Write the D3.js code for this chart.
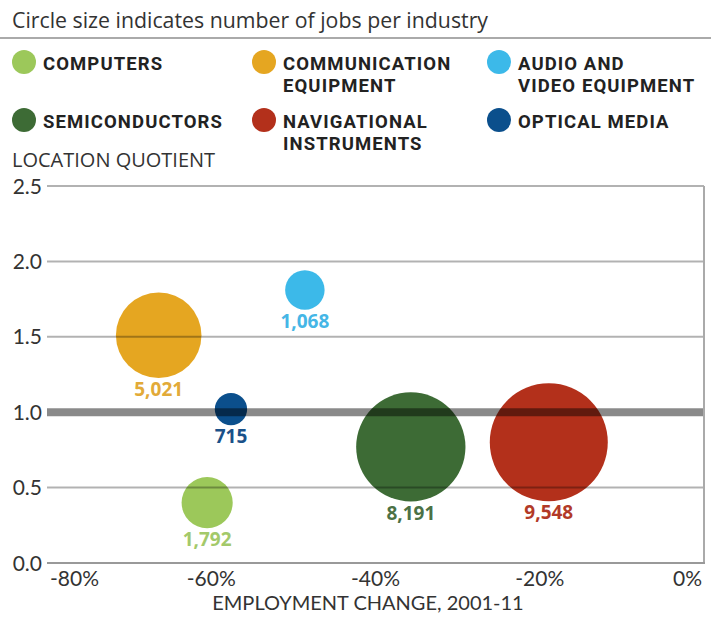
<!DOCTYPE html>
<html>
<head>
<meta charset="utf-8">
<script src="https://cdn.jsdelivr.net/npm/d3@7"></script>
<style>
  body { margin: 0; background: #fff; }
  svg { display: block; }
</style>
</head>
<body>
<script>
// data
let industries = ["Computers", "Communication equipment", "Audio and video equipment",
                  "Semiconductors", "Navigational instruments", "Optical media"];
let legendLines = [["COMPUTERS"], ["COMMUNICATION", "EQUIPMENT"], ["AUDIO AND", "VIDEO EQUIPMENT"],
                   ["SEMICONDUCTORS"], ["NAVIGATIONAL", "INSTRUMENTS"], ["OPTICAL MEDIA"]];
let employmentChange = [-60.5, -66.4, -48.6, -35.7, -18.9, -57.6];
let locationQuotient = [0.40, 1.51, 1.81, 0.77, 0.80, 1.02];
let jobs = [1792, 5021, 1068, 8191, 9548, 715];
let colors = ["#9cc85a", "#e5a621", "#3cb9e9", "#3d6b35", "#b3301b", "#0b4f8c"];
let labelColors = ["#a3c96a", "#e2aa38", "#45b6e6", "#4b7145", "#b23a28", "#1a5189"];
let yTicks = [0, 0.5, 1.0, 1.5, 2.0, 2.5];
let xTicks = [-80, -60, -40, -20, 0];

function main() {
    let width = 711, height = 617;
    let left = 47, right = 704, top = 186, bottom = 563;

    let svg = d3.select("body").append("svg")
        .attr("width", width)
        .attr("height", height)
        .style("font-family", "'Open Sans', sans-serif");

    // title + rule
    svg.append("text")
        .attr("x", 12).attr("y", 28)
        .attr("font-size", "21.3px")
        .attr("fill", "#333")
        .text("Circle size indicates number of jobs per industry");

    svg.append("line")
        .attr("x1", 0).attr("x2", width)
        .attr("y1", 38).attr("y2", 38)
        .attr("stroke", "#aaa").attr("stroke-width", 2);

    // legend
    let colX = [24, 264, 499];
    let rowY = [62, 120];
    let legend = svg.selectAll(".legend")
        .data(industries)
        .enter()
        .append("g")
        .attr("class", "legend")
        .attr("transform", function(d, i) {
            return "translate(" + colX[i % 3] + "," + rowY[Math.floor(i / 3)] + ")";
        });

    legend.append("circle")
        .attr("r", 12)
        .attr("fill", function(d, i) { return colors[i]; });

    legend.append("text")
        .attr("x", 19)
        .attr("y", 8)
        .attr("font-family", "Roboto, sans-serif")
        .attr("font-weight", "bold")
        .attr("font-size", "18.5px")
        .attr("letter-spacing", "1.1px")
        .attr("fill", "#222")
        .each(function(d, i) {
            let t = d3.select(this);
            legendLines[i].forEach(function(line, j) {
                t.append("tspan")
                    .attr("x", 19)
                    .attr("dy", j === 0 ? 0 : 21.8)
                    .text(line);
            });
        });

    // axis title
    svg.append("text")
        .attr("x", 12).attr("y", 167)
        .attr("font-size", "20px")
        .attr("fill", "#333")
        .text("LOCATION QUOTIENT");

    let x = d3.scaleLinear().domain([-80, 0]).range([left, right]);
    let y = d3.scaleLinear().domain([0, 2.5]).range([bottom, top]);
    let r = d3.scaleSqrt().domain([0, d3.max(jobs)]).range([0, 59]);

    let idx = d3.range(industries.length);

    // bubbles
    svg.selectAll(".bubble")
        .data(idx)
        .enter()
        .append("circle")
        .attr("class", "bubble")
        .attr("cx", function(i) { return x(employmentChange[i]); })
        .attr("cy", function(i) { return y(locationQuotient[i]); })
        .attr("r", function(i) { return r(jobs[i]); })
        .attr("fill", function(i) { return colors[i]; });

    // grid on top, semi-transparent
    svg.selectAll(".grid")
        .data(yTicks.filter(function(d) { return d > 0 && d !== 1; }))
        .enter()
        .append("line")
        .attr("class", "grid")
        .attr("x1", left).attr("x2", right)
        .attr("y1", function(d) { return y(d); })
        .attr("y2", function(d) { return y(d); })
        .attr("stroke", "#000")
        .attr("stroke-opacity", 0.3)
        .attr("stroke-width", 2);

    // reference line at 1.0
    svg.append("line")
        .attr("x1", left).attr("x2", right)
        .attr("y1", y(1)).attr("y2", y(1))
        .attr("stroke", "#000")
        .attr("stroke-opacity", 0.46)
        .attr("stroke-width", 8);

    // frame: right edge and baseline
    svg.append("line")
        .attr("x1", right).attr("x2", right)
        .attr("y1", y(2.5)).attr("y2", y(0))
        .attr("stroke", "#aaa").attr("stroke-width", 2);
    svg.append("line")
        .attr("x1", left).attr("x2", right + 1)
        .attr("y1", y(0)).attr("y2", y(0))
        .attr("stroke", "#999").attr("stroke-width", 2);

    // y tick labels
    svg.selectAll(".ytick")
        .data(yTicks)
        .enter()
        .append("text")
        .attr("class", "ytick")
        .attr("x", 42)
        .attr("y", function(d) { return y(d); })
        .attr("dy", "0.36em")
        .attr("text-anchor", "end")
        .attr("font-family", "Lato, sans-serif")
        .attr("font-size", "21px")
        .attr("fill", "#333")
        .text(function(d) { return d3.format(".1f")(d); });

    // x tick labels
    svg.selectAll(".xtick")
        .data(xTicks)
        .enter()
        .append("text")
        .attr("class", "xtick")
        .attr("x", function(d) { return x(d); })
        .attr("y", 585.5)
        .attr("text-anchor", function(d, i) {
            if (i === 0) return "start";
            if (i === xTicks.length - 1) return "end";
            return "middle";
        })
        .attr("dx", function(d, i) {
            if (i === 0) return 3;
            if (i === xTicks.length - 1) return -2;
            return 0;
        })
        .attr("font-family", "Lato, sans-serif")
        .attr("font-size", "21px")
        .attr("fill", "#333")
        .text(function(d) { return d + "%"; });

    svg.append("text")
        .attr("x", 368).attr("y", 610)
        .attr("text-anchor", "middle")
        .attr("font-family", "Lato, sans-serif")
        .attr("font-size", "20px")
        .attr("fill", "#333")
        .text("EMPLOYMENT CHANGE, 2001-11");

    // value labels under bubbles
    svg.selectAll(".value")
        .data(idx)
        .enter()
        .append("text")
        .attr("class", "value")
        .attr("x", function(i) { return x(employmentChange[i]); })
        .attr("y", function(i) { return y(locationQuotient[i]) + r(jobs[i]) + 18; })
        .attr("text-anchor", "middle")
        .attr("font-weight", "bold")
        .attr("font-size", "19px")
        .attr("fill", function(i) { return labelColors[i]; })
        .text(function(i) { return d3.format(",")(jobs[i]); });
}

main();
</script>
</body>
</html>
